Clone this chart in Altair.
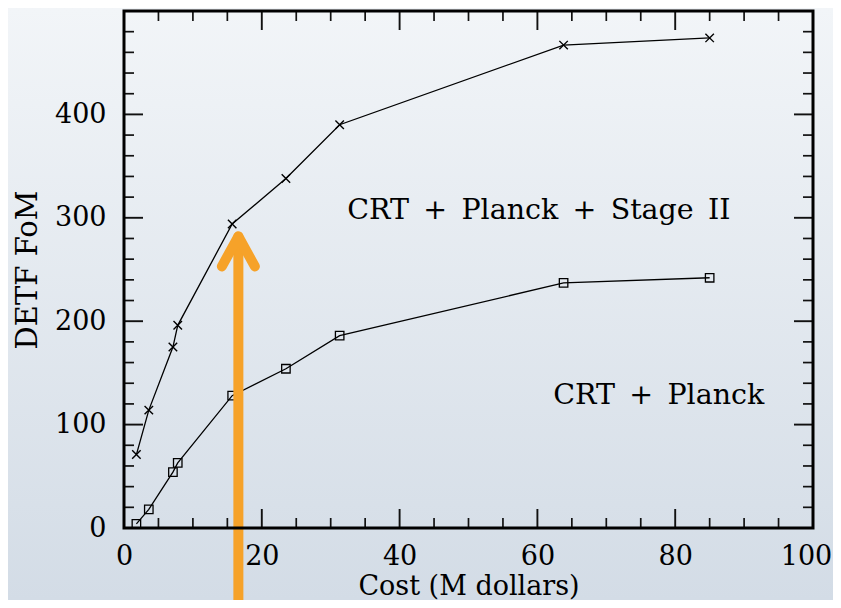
import altair as alt
import pandas as pd

# ---- data ----
COST = [1.8, 3.6, 7.1, 7.8, 15.7, 23.5, 31.3, 63.8, 85.0]
FOM_STAGE2 = [71, 114, 175, 196, 294, 338, 390, 467, 474]
FOM_PLANCK = [4, 18, 54, 63, 128, 154, 186, 237, 242]

X_MAJOR = [0, 20, 40, 60, 80, 100]
X_MAJOR_INNER = [20, 40, 60, 80]
X_MINOR = [5, 10, 15, 25, 30, 35, 45, 50, 55, 65, 70, 75, 85, 90, 95]
Y_MAJOR = [0, 100, 200, 300, 400]
Y_MAJOR_INNER = [100, 200, 300, 400]
Y_MINOR = [20, 40, 60, 80, 120, 140, 160, 180, 220, 240, 260, 280,
           320, 340, 360, 380, 420, 440, 460, 480]

LABEL_TEXT = ["CRT\u2002+\u2002Planck\u2002+\u2002Stage\u2002II", "CRT\u2002+\u2002Planck"]
LABEL_X = [32.4, 62.3]
LABEL_Y = [299, 120]

ARROW_X = [16.6]
ARROW_TIP = [282]
ARROW_BASE = [-80]

# ---- layout ----
W, H = 689, 517
PAD = {"left": 116, "top": 3, "right": 20, "bottom": 72}
FONT = "DejaVu Serif"
ORANGE = "#F6A229"

xs = alt.Scale(domain=[0, 100], nice=False, zero=False)
ys = alt.Scale(domain=[0, 500], nice=False, zero=False)

x_axis = alt.Axis(values=X_MAJOR, title="Cost (M dollars)", domain=False, ticks=False,
                  grid=False, labelFont=FONT, labelFontSize=27, labelColor="black",
                  labelPadding=15, titleFont=FONT, titleFontSize=27,
                  titleFontWeight="normal", titleColor="black", titlePadding=4,
                  labelFlush=False, labelOverlap=False, zindex=1,
                  labelOffset=alt.ConditionalAxisNumber(
                      condition={"test": "datum.value == 100", "value": -7}, value=0))
y_axis = alt.Axis(values=Y_MAJOR, title="DETF FoM", domain=False, ticks=False,
                  grid=False, labelFont=FONT, labelFontSize=27, labelColor="black",
                  labelPadding=18, titleFont=FONT, titleFontSize=29,
                  titleFontWeight="normal", titleColor="black", titlePadding=12,
                  labelFlush=False, labelOverlap=False, zindex=1)


def X(f):
    return alt.X(f, scale=xs, axis=x_axis)


def Y(f):
    return alt.Y(f, scale=ys, axis=y_axis)


one = pd.DataFrame({"a": [0]})

bg = alt.Chart(one).mark_rect(
    color=alt.LinearGradient(
        gradient="linear", x1=0, x2=0, y1=0, y2=1,
        stops=[alt.GradientStop(color="#F2F5F8", offset=0),
               alt.GradientStop(color="#D3DCE6", offset=1)]
    )
).encode(x=alt.value(-PAD["left"]), x2=alt.value(W + PAD["right"]),
         y=alt.value(-PAD["top"]), y2=alt.value(H + PAD["bottom"]))


def vticks(vals, y0, y1, width):
    return alt.Chart(pd.DataFrame({"v": vals})).mark_rule(
        color="#111", strokeWidth=width
    ).encode(x=X("v:Q"), y=alt.value(y0), y2=alt.value(y1))


def hticks(vals, x0, x1, width):
    return alt.Chart(pd.DataFrame({"v": vals})).mark_rule(
        color="#111", strokeWidth=width
    ).encode(y=Y("v:Q"), x=alt.value(x0), x2=alt.value(x1))


ticks = [
    vticks(X_MINOR, H, H - 10, 1.7), vticks(X_MAJOR_INNER, H, H - 19, 1.9),
    vticks(X_MINOR, 0, 10, 1.7), vticks(X_MAJOR_INNER, 0, 19, 1.9),
    hticks(Y_MINOR, 0, 10, 1.7), hticks(Y_MAJOR_INNER, 0, 19, 1.9),
    hticks(Y_MINOR, W, W - 10, 1.7), hticks(Y_MAJOR_INNER, W, W - 19, 1.9),
]

df = pd.DataFrame({
    "cost": COST + COST,
    "fom": FOM_STAGE2 + FOM_PLANCK,
    "series": ["stage2"] * len(COST) + ["planck"] * len(COST),
})

lines = alt.Chart(df).mark_line(color="black", strokeWidth=1.3).encode(
    x=X("cost:Q"), y=Y("fom:Q"), detail="series:N")

crosses = alt.Chart(df[df.series == "stage2"]).mark_point(
    shape="M-1,-1L1,1M-1,1L1,-1", size=72, filled=False, color="black",
    strokeWidth=1.4, opacity=1
).encode(x=X("cost:Q"), y=Y("fom:Q"))

squares = alt.Chart(df[df.series == "planck"]).mark_point(
    shape="square", size=72, filled=False, color="black", strokeWidth=1.3, opacity=1
).encode(x=X("cost:Q"), y=Y("fom:Q"))

labels = alt.Chart(pd.DataFrame({"t": LABEL_TEXT, "x": LABEL_X, "y": LABEL_Y})).mark_text(
    font=FONT, fontSize=28.5, color="black", align="left", baseline="alphabetic"
).encode(x=X("x:Q"), y=Y("y:Q"), text="t:N")

adf = pd.DataFrame({"x": ARROW_X, "tip": ARROW_TIP, "base": ARROW_BASE})
shaft = alt.Chart(adf).mark_rule(color=ORANGE, strokeWidth=10, strokeCap="round").encode(
    x=X("x:Q"), y=Y("tip:Q"), y2="base:Q")
head = alt.Chart(adf).mark_point(
    shape="M-0.55,1L0,0L0.55,1", size=3600, filled=False, color=ORANGE,
    strokeWidth=10, strokeCap="round", strokeJoin="round", opacity=1
).encode(x=X("x:Q"), y=Y("tip:Q"))

border = alt.Chart(one).mark_rect(fillOpacity=0, stroke="black", strokeWidth=3).encode(
    x=alt.value(0), x2=alt.value(W), y=alt.value(0), y2=alt.value(H))

chart = alt.layer(bg, *ticks, lines, crosses, squares, labels, shaft, head, border).properties(
    width=W, height=H,
    autosize=alt.AutoSizeParams(type="none"),
    padding=PAD,
    background="#E4EAF0",
).configure_view(stroke=None)

chart.save("out.html", embed_options={"renderer": "svg", "actions": False})
